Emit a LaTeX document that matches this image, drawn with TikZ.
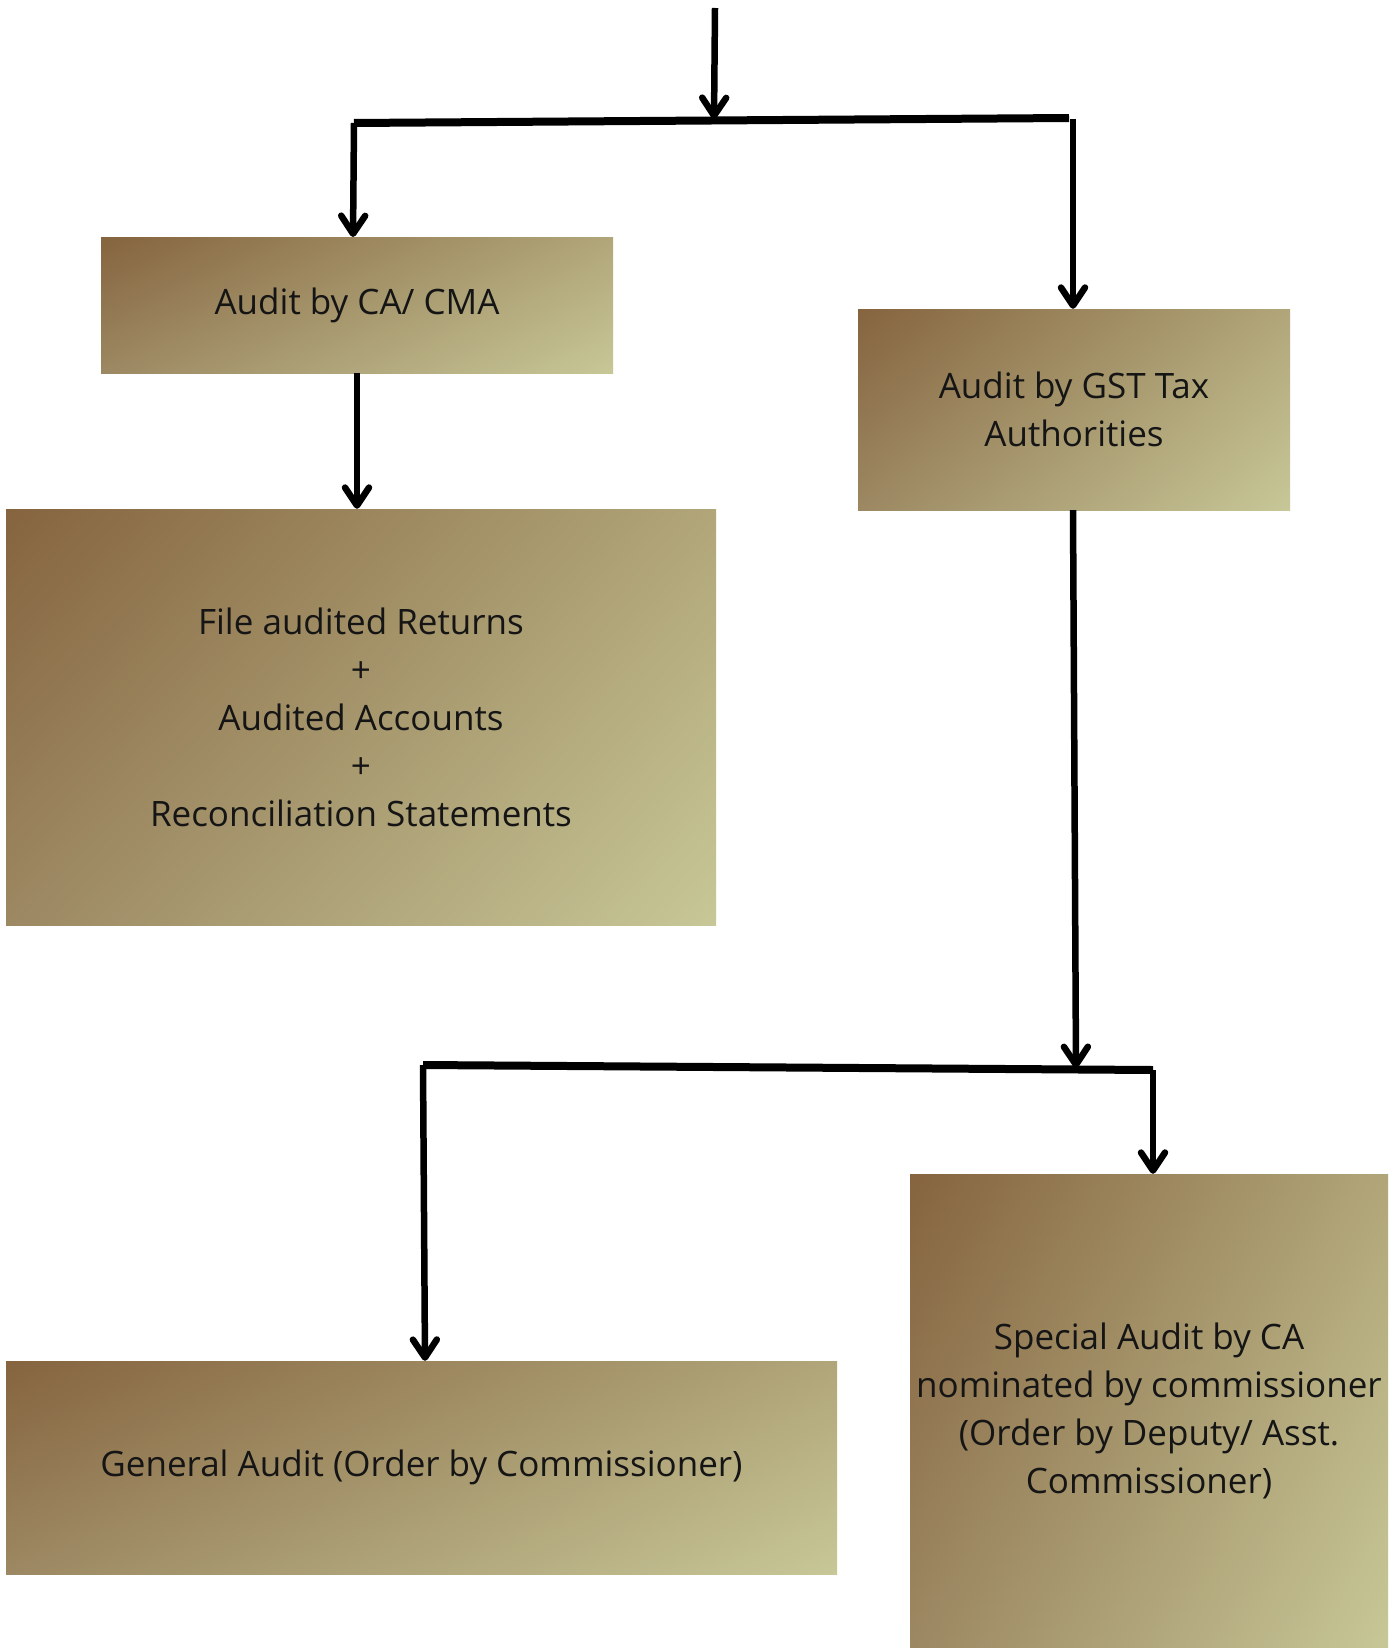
\documentclass[tikz,border=0pt]{standalone}
\usepackage{fontspec}
\setmainfont{Open Sans}
\usetikzlibrary{arrows.meta,shadings}
\definecolor{gA}{HTML}{85643F}
\definecolor{gB}{HTML}{C7C797}
\definecolor{gC}{HTML}{B1A67A}
\definecolor{gD}{HTML}{9C8862}
\definecolor{txt}{HTML}{151515}
\tikzset{
  box/.style={rectangle, inner sep=0pt, align=center, text=txt,
    font=\fontsize{35}{48}\selectfont,
    shade, shading=bilinear interpolation,
    upper left=gA, lower right=gB, upper right=gC, lower left=gD},
  conn/.style={line width=6.5pt, draw=black},
  hbar/.style={line width=8pt, draw=black},
  arr/.style={conn, -{Straight Barb[length=18pt,width=24pt,line cap=round,round]}}
}
\begin{document}
\begin{tikzpicture}[x=1pt,y=-1pt]
\useasboundingbox (0,0) rectangle (1397,1648);
\fill[white] (0,0) rectangle (1397,1648);
% boxes
\node[box, minimum width=512pt, minimum height=136pt] (b1) at (357,305) {Audit by CA/ CMA};
\node[box, minimum width=432pt, minimum height=201pt] (b2) at (1074,409.5) {Audit by GST Tax\\Authorities};
\node[box, minimum width=710pt, minimum height=416pt] (b3) at (361,717) {File audited Returns\\+\\Audited Accounts\\+\\Reconciliation Statements};
\node[box, minimum width=831pt, minimum height=213pt] (b4) at (421.5,1467.5) {General Audit (Order by Commissioner)};
\node[box, minimum width=478pt, minimum height=474pt] (b5) at (1149,1411) {Special Audit by CA\\nominated by commissioner\\(Order by Deputy/ Asst.\\Commissioner)};
% junction coordinates
\coordinate (top) at (715,8);
\coordinate (j1C) at (714,119);
\coordinate (j1L) at (354,123);
\coordinate (j1R) at (1069,118);
\coordinate (j1Rv) at (1073,119);
\coordinate (j2C) at (1076,1068);
\coordinate (j2L) at (423,1065);
\coordinate (j2R) at (1153,1070);
% connectors
\draw[hbar] (j1L) -- (j1R);
\draw[arr] (top) -- (j1C);
\draw[arr] (j1L) -- (353,237);
\draw[arr] (j1Rv) -- (b2.north -| j1Rv);
\draw[arr] (b1.south -| 357,0) -- (b3.north -| 357,0);
\draw[hbar] (j2L) -- (j2R);
\draw[arr] (b2.south -| 1073,0) -- (j2C);
\draw[arr] (j2L) -- (b4.north -| 425,0);
\draw[arr] (j2R) -- (b5.north -| j2R);
\end{tikzpicture}
\end{document}
